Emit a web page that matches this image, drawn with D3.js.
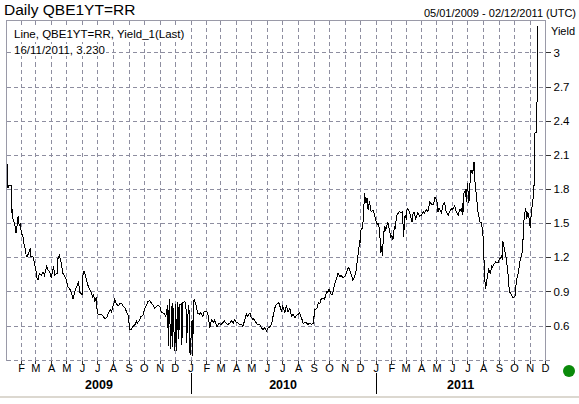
<!DOCTYPE html>
<html>
<head>
<meta charset="utf-8">
<script src="https://cdn.jsdelivr.net/npm/d3@7"></script>
<style>
  body { margin: 0; background: #fff; }
  svg { display: block; font-family: "Liberation Sans", Arial, sans-serif; }
</style>
</head>
<body>
<svg id="chart" width="579" height="404"></svg>
<script>
// Daily yield
const data2009 = [
  ["2009-01-05", 2.02], ["2009-01-06", 1.81], ["2009-01-08", 1.83], ["2009-01-13", 1.83], ["2009-01-14", 1.56],
  ["2009-01-15", 1.62], ["2009-01-16", 1.52], ["2009-01-19", 1.50], ["2009-01-21", 1.44], ["2009-01-22", 1.41],
  ["2009-01-26", 1.56], ["2009-01-28", 1.48], ["2009-01-30", 1.49], ["2009-02-02", 1.40], ["2009-02-04", 1.40],
  ["2009-02-06", 1.33], ["2009-02-09", 1.27], ["2009-02-11", 1.21], ["2009-02-13", 1.21], ["2009-02-17", 1.25],
  ["2009-02-19", 1.28], ["2009-02-20", 1.21], ["2009-02-24", 1.21], ["2009-02-27", 1.15], ["2009-03-02", 1.09],
  ["2009-03-04", 1.02], ["2009-03-06", 1.00], ["2009-03-09", 1.06], ["2009-03-13", 1.04], ["2009-03-16", 1.07],
  ["2009-03-19", 1.04], ["2009-03-23", 1.12], ["2009-03-26", 1.09], ["2009-03-30", 1.06], ["2009-04-01", 1.02],
  ["2009-04-06", 1.12], ["2009-04-08", 1.04], ["2009-04-13", 1.06], ["2009-04-14", 1.18], ["2009-04-17", 1.22],
  ["2009-04-21", 1.15], ["2009-04-24", 1.06], ["2009-04-28", 1.03], ["2009-05-01", 1.00], ["2009-05-04", 0.94],
  ["2009-05-08", 0.92], ["2009-05-11", 0.89], ["2009-05-14", 0.83], ["2009-05-18", 0.90], ["2009-05-21", 0.94],
  ["2009-05-25", 0.98], ["2009-05-28", 0.89], ["2009-06-01", 0.87], ["2009-06-03", 1.05], ["2009-06-05", 1.08],
  ["2009-06-10", 1.00], ["2009-06-12", 0.96], ["2009-06-16", 0.92], ["2009-06-19", 0.89], ["2009-06-22", 0.85],
  ["2009-06-24", 0.87], ["2009-06-26", 0.81], ["2009-06-29", 0.85], ["2009-07-01", 0.71], ["2009-07-03", 0.70],
  ["2009-07-09", 0.70], ["2009-07-13", 0.68], ["2009-07-16", 0.66], ["2009-07-20", 0.67], ["2009-07-22", 0.70],
  ["2009-07-27", 0.74], ["2009-07-29", 0.72], ["2009-08-03", 0.80], ["2009-08-04", 0.83], ["2009-08-07", 0.80],
  ["2009-08-11", 0.77], ["2009-08-14", 0.79], ["2009-08-17", 0.80], ["2009-08-21", 0.77], ["2009-08-24", 0.76],
  ["2009-08-27", 0.73], ["2009-08-31", 0.69], ["2009-09-03", 0.565], ["2009-09-07", 0.57], ["2009-09-09", 0.59],
  ["2009-09-14", 0.61], ["2009-09-16", 0.64], ["2009-09-18", 0.62], ["2009-09-23", 0.65], ["2009-09-25", 0.68],
  ["2009-09-29", 0.69], ["2009-10-02", 0.74], ["2009-10-06", 0.78], ["2009-10-09", 0.81], ["2009-10-12", 0.82],
  ["2009-10-14", 0.81], ["2009-10-19", 0.78], ["2009-10-22", 0.75], ["2009-10-26", 0.77], ["2009-10-29", 0.78],
  ["2009-11-02", 0.76], ["2009-11-04", 0.72], ["2009-11-06", 0.715], ["2009-11-11", 0.70], ["2009-11-13", 0.68],
  ["2009-11-17", 0.78], ["2009-11-18", 0.42], ["2009-11-20", 0.83], ["2009-11-23", 0.39], ["2009-11-24", 0.77],
  ["2009-11-26", 0.41], ["2009-11-27", 0.80], ["2009-12-01", 0.375], ["2009-12-03", 0.79], ["2009-12-04", 0.375],
  ["2009-12-07", 0.81], ["2009-12-09", 0.48], ["2009-12-10", 0.78], ["2009-12-14", 0.79], ["2009-12-15", 0.43],
  ["2009-12-16", 0.80], ["2009-12-21", 0.81], ["2009-12-23", 0.76], ["2009-12-24", 0.45], ["2009-12-28", 0.78],
  ["2009-12-29", 0.74], ["2009-12-31", 0.345]
];

const data2010 = [
  ["2010-01-04", 0.65], ["2010-01-05", 0.33], ["2010-01-07", 0.80], ["2010-01-08", 0.83], ["2010-01-12", 0.78],
  ["2010-01-15", 0.71], ["2010-01-19", 0.70], ["2010-01-21", 0.71], ["2010-01-25", 0.68], ["2010-01-28", 0.725],
  ["2010-02-01", 0.725], ["2010-02-04", 0.71], ["2010-02-08", 0.58], ["2010-02-11", 0.65], ["2010-02-15", 0.63],
  ["2010-02-17", 0.65], ["2010-02-22", 0.59], ["2010-02-24", 0.60], ["2010-02-26", 0.62], ["2010-03-02", 0.61],
  ["2010-03-05", 0.62], ["2010-03-09", 0.64], ["2010-03-12", 0.62], ["2010-03-16", 0.61], ["2010-03-19", 0.62],
  ["2010-03-23", 0.64], ["2010-03-26", 0.62], ["2010-03-29", 0.65], ["2010-04-01", 0.63], ["2010-04-05", 0.62],
  ["2010-04-08", 0.61], ["2010-04-12", 0.61], ["2010-04-14", 0.59], ["2010-04-16", 0.62], ["2010-04-21", 0.70],
  ["2010-04-23", 0.68], ["2010-04-28", 0.71], ["2010-04-30", 0.68], ["2010-05-04", 0.65], ["2010-05-06", 0.66],
  ["2010-05-11", 0.62], ["2010-05-13", 0.61], ["2010-05-17", 0.61], ["2010-05-21", 0.58], ["2010-05-24", 0.565],
  ["2010-05-27", 0.58], ["2010-05-31", 0.55], ["2010-06-03", 0.58], ["2010-06-07", 0.59], ["2010-06-10", 0.62],
  ["2010-06-14", 0.71], ["2010-06-16", 0.75], ["2010-06-18", 0.78], ["2010-06-23", 0.80], ["2010-06-25", 0.79],
  ["2010-06-29", 0.725], ["2010-07-02", 0.77], ["2010-07-06", 0.71], ["2010-07-09", 0.78], ["2010-07-12", 0.72],
  ["2010-07-16", 0.75], ["2010-07-19", 0.68], ["2010-07-22", 0.70], ["2010-07-26", 0.67], ["2010-07-29", 0.69],
  ["2010-08-02", 0.70], ["2010-08-04", 0.71], ["2010-08-09", 0.65], ["2010-08-11", 0.62], ["2010-08-16", 0.63],
  ["2010-08-18", 0.62], ["2010-08-20", 0.61], ["2010-08-24", 0.62], ["2010-08-27", 0.61], ["2010-08-31", 0.62],
  ["2010-09-03", 0.74], ["2010-09-07", 0.75], ["2010-09-10", 0.80], ["2010-09-13", 0.79], ["2010-09-16", 0.84],
  ["2010-09-20", 0.84], ["2010-09-22", 0.83], ["2010-09-27", 0.90], ["2010-09-29", 0.89], ["2010-10-01", 0.92],
  ["2010-10-06", 0.87], ["2010-10-08", 0.87], ["2010-10-12", 0.96], ["2010-10-15", 1.00], ["2010-10-19", 1.06],
  ["2010-10-22", 1.03], ["2010-10-25", 1.04], ["2010-10-29", 1.02], ["2010-11-01", 1.03], ["2010-11-04", 1.06],
  ["2010-11-08", 1.11], ["2010-11-10", 1.10], ["2010-11-15", 1.03], ["2010-11-17", 1.00], ["2010-11-19", 1.01],
  ["2010-11-24", 1.09], ["2010-11-26", 1.18], ["2010-11-29", 1.27], ["2010-11-30", 1.35], ["2010-12-01", 1.30],
  ["2010-12-02", 1.43], ["2010-12-06", 1.46], ["2010-12-07", 1.50], ["2010-12-08", 1.55], ["2010-12-10", 1.76],
  ["2010-12-13", 1.68], ["2010-12-14", 1.69], ["2010-12-15", 1.72], ["2010-12-17", 1.62], ["2010-12-20", 1.69],
  ["2010-12-23", 1.60], ["2010-12-27", 1.61], ["2010-12-30", 1.57]
];

const data2011 = [
  ["2011-01-03", 1.50], ["2011-01-05", 1.49], ["2011-01-07", 1.50], ["2011-01-10", 1.35], ["2011-01-11", 1.24],
  ["2011-01-13", 1.30], ["2011-01-14", 1.21], ["2011-01-17", 1.41], ["2011-01-19", 1.47], ["2011-01-21", 1.44],
  ["2011-01-25", 1.51], ["2011-01-27", 1.47], ["2011-01-31", 1.38], ["2011-02-02", 1.39], ["2011-02-04", 1.35],
  ["2011-02-07", 1.47], ["2011-02-09", 1.45], ["2011-02-11", 1.56], ["2011-02-15", 1.59], ["2011-02-17", 1.60],
  ["2011-02-21", 1.59], ["2011-02-23", 1.60], ["2011-02-25", 1.38], ["2011-02-28", 1.57], ["2011-03-03", 1.53],
  ["2011-03-04", 1.63], ["2011-03-07", 1.62], ["2011-03-09", 1.59], ["2011-03-14", 1.51], ["2011-03-16", 1.59],
  ["2011-03-18", 1.59], ["2011-03-21", 1.54], ["2011-03-25", 1.59], ["2011-03-29", 1.56], ["2011-04-01", 1.57],
  ["2011-04-05", 1.60], ["2011-04-07", 1.59], ["2011-04-11", 1.62], ["2011-04-14", 1.60], ["2011-04-18", 1.69],
  ["2011-04-20", 1.67], ["2011-04-25", 1.66], ["2011-04-28", 1.73], ["2011-05-02", 1.69], ["2011-05-04", 1.60],
  ["2011-05-06", 1.63], ["2011-05-11", 1.59], ["2011-05-13", 1.65], ["2011-05-17", 1.68], ["2011-05-20", 1.60],
  ["2011-05-24", 1.57], ["2011-05-27", 1.60], ["2011-05-31", 1.63], ["2011-06-02", 1.62], ["2011-06-06", 1.65],
  ["2011-06-09", 1.60], ["2011-06-13", 1.57], ["2011-06-16", 1.62], ["2011-06-20", 1.60], ["2011-06-21", 1.68],
  ["2011-06-22", 1.57], ["2011-06-24", 1.76], ["2011-06-27", 1.79], ["2011-06-29", 1.69], ["2011-06-30", 1.78],
  ["2011-07-01", 1.85], ["2011-07-04", 1.68], ["2011-07-06", 1.84], ["2011-07-08", 1.97], ["2011-07-11", 1.93],
  ["2011-07-12", 1.96], ["2011-07-14", 2.04], ["2011-07-15", 1.91], ["2011-07-19", 1.73], ["2011-07-22", 1.59],
  ["2011-07-26", 1.51], ["2011-07-29", 1.50], ["2011-08-01", 1.38], ["2011-08-02", 1.21], ["2011-08-04", 1.12],
  ["2011-08-05", 0.92], ["2011-08-08", 0.97], ["2011-08-09", 1.03], ["2011-08-12", 1.09], ["2011-08-15", 1.06],
  ["2011-08-18", 1.12], ["2011-08-19", 1.11], ["2011-08-24", 1.15], ["2011-08-26", 1.16], ["2011-08-30", 1.15],
  ["2011-09-02", 1.18], ["2011-09-06", 1.21], ["2011-09-08", 1.18], ["2011-09-09", 1.34], ["2011-09-12", 1.27],
  ["2011-09-16", 1.18], ["2011-09-19", 1.06], ["2011-09-21", 0.94], ["2011-09-23", 0.89], ["2011-09-27", 0.86],
  ["2011-09-29", 0.84], ["2011-10-03", 0.86], ["2011-10-05", 0.96], ["2011-10-07", 1.02], ["2011-10-10", 1.08],
  ["2011-10-12", 1.15], ["2011-10-17", 1.24], ["2011-10-19", 1.38], ["2011-10-21", 1.56], ["2011-10-24", 1.63],
  ["2011-10-26", 1.54], ["2011-10-28", 1.60], ["2011-10-31", 1.53], ["2011-11-02", 1.46], ["2011-11-04", 1.59],
  ["2011-11-08", 1.73], ["2011-11-10", 1.88], ["2011-11-11", 2.29], ["2011-11-14", 2.30], ["2011-11-15", 2.31],
  ["2011-11-16", 3.23]
];

const yTicks = [0.6, 0.9, 1.2, 1.5, 1.8, 2.1, 2.4, 2.7, 3.0];
const monthLetters = ["J", "F", "M", "A", "M", "J", "J", "A", "S", "O", "N", "D"];
const years = ["2009", "2010", "2011"];
const dateRange = ["2009-01-05", "2011-12-02"];
const yRange = [0.293, 3.28];

const parse = d3.timeParse("%Y-%m-%d");
const series = data2009.concat(data2010, data2011).map(d => ({ date: parse(d[0]), value: d[1] }));

const svg = d3.select("#chart");
const plotLeft = 6.5, plotRight = 545.5, plotTop = 20.5, plotBottom = 360.5;
const gridColor = "#8e8ea0";

const x = d3.scaleTime()
  .domain(dateRange.map(parse))
  .range([plotLeft + 1, plotRight]);

const y = d3.scaleLinear()
  .domain(yRange)
  .range([plotBottom, plotTop]);

// first of each month inside the range, plus the last one (Dec 2011)
const monthTicks = d3.timeMonth.range(x.domain()[0], d3.timeDay.offset(x.domain()[1], 1));

// grid
const grid = svg.append("g")
  .attr("stroke", gridColor)
  .attr("stroke-dasharray", "4,3")
  .attr("shape-rendering", "crispEdges");

grid.selectAll("line.v")
  .data(monthTicks)
  .join("line")
  .attr("class", "v")
  .attr("x1", d => Math.round(x(d)) + 0.5)
  .attr("x2", d => Math.round(x(d)) + 0.5)
  .attr("y1", plotTop)
  .attr("y2", plotBottom);

grid.selectAll("line.h")
  .data(yTicks)
  .join("line")
  .attr("class", "h")
  .attr("x1", plotLeft)
  .attr("x2", plotRight)
  .attr("y1", d => Math.round(y(d)) + 0.5)
  .attr("y2", d => Math.round(y(d)) + 0.5);

// bottom edge dashed, others solid
grid.append("line")
  .attr("x1", plotLeft).attr("x2", plotRight + 5)
  .attr("y1", plotBottom).attr("y2", plotBottom);

svg.append("path")
  .attr("d", `M${plotLeft},${plotBottom}V${plotTop}H${plotRight}V${plotBottom}`)
  .attr("fill", "none")
  .attr("stroke", "#9a9aa8")
  .attr("shape-rendering", "crispEdges");

// legend text with white boxes
const legendLines = ["Line, QBE1YT=RR, Yield_1(Last)", "16/11/2011, 3.230"];
const legend = svg.append("g");
legend.selectAll("text")
  .data(legendLines)
  .join("text")
  .attr("x", 14)
  .attr("y", (d, i) => 38 + i * 16)
  .attr("font-size", 11.5)
  .attr("fill", "#000")
  .text(d => d)
  .each(function () {
    const b = this.getBBox();
    legend.insert("rect", "text")
      .attr("x", b.x - 1)
      .attr("y", b.y)
      .attr("width", b.width + 2)
      .attr("height", b.height)
      .attr("fill", "#fff");
  });

// the yield line
const line = d3.line()
  .x(d => x(d.date))
  .y(d => y(d.value));

svg.append("path")
  .datum(series)
  .attr("d", line)
  .attr("fill", "none")
  .attr("stroke", "#000")
  .attr("stroke-width", 1)
  .attr("shape-rendering", "crispEdges");

// right axis
const yAxis = svg.append("g")
  .attr("transform", `translate(${plotRight},0)`)
  .call(d3.axisRight(y).tickValues(yTicks).tickSize(5).tickPadding(3)
    .tickFormat(d => String(+d.toFixed(1))));
yAxis.select(".domain").remove();
yAxis.selectAll("line").attr("stroke", "#333").attr("shape-rendering", "crispEdges");
yAxis.selectAll("text").attr("font-size", 11.5).attr("font-family", "Liberation Sans, Arial, sans-serif").attr("fill", "#000");

svg.append("text")
  .attr("x", 551)
  .attr("y", 35)
  .attr("font-size", 11)
  .text("Yield");

// bottom axis: month initials
const xAxis = svg.append("g")
  .attr("transform", `translate(0,${plotBottom})`)
  .call(d3.axisBottom(x).tickValues(monthTicks).tickSize(3).tickPadding(1)
    .tickFormat(d => monthLetters[d.getMonth()]));
xAxis.select(".domain").remove();
xAxis.selectAll("line").attr("stroke", "#333").attr("shape-rendering", "crispEdges");
xAxis.selectAll("text").attr("font-size", 11).attr("font-family", "Liberation Sans, Arial, sans-serif").attr("fill", "#000");

// year bands
const yearStarts = years.map(d => d3.max([parse(d + "-01-01"), x.domain()[0]]));
const yearEnds = years.map((d, i) => i < years.length - 1 ? parse(years[i + 1] + "-01-01") : x.domain()[1]);

svg.selectAll("text.year")
  .data(years)
  .join("text")
  .attr("class", "year")
  .attr("x", (d, i) => (x(yearStarts[i]) + x(yearEnds[i])) / 2)
  .attr("y", 389)
  .attr("text-anchor", "middle")
  .attr("font-size", 12.5)
  .attr("font-weight", "bold")
  .text(d => d);

svg.selectAll("line.sep")
  .data(years.slice(1))
  .join("line")
  .attr("class", "sep")
  .attr("x1", d => Math.round(x(parse(d + "-01-01"))) + 0.5)
  .attr("x2", d => Math.round(x(parse(d + "-01-01"))) + 0.5)
  .attr("y1", 373)
  .attr("y2", 394)
  .attr("stroke", "#000");

// header
svg.append("text")
  .attr("x", 4)
  .attr("y", 15)
  .attr("font-size", 15.5)
  .text("Daily QBE1YT=RR");

svg.append("text")
  .attr("x", 576)
  .attr("y", 17)
  .attr("text-anchor", "end")
  .attr("font-size", 11)
  .text("05/01/2009 - 02/12/2011 (UTC)");

// footer rule and status dot
svg.append("rect")
  .attr("x", 0).attr("y", 396)
  .attr("width", 579).attr("height", 2)
  .attr("fill", "#dcd8d0");

svg.append("circle")
  .attr("cx", 569)
  .attr("cy", 371)
  .attr("r", 6)
  .attr("fill", "#0a8a0a");
</script>
</body>
</html>
